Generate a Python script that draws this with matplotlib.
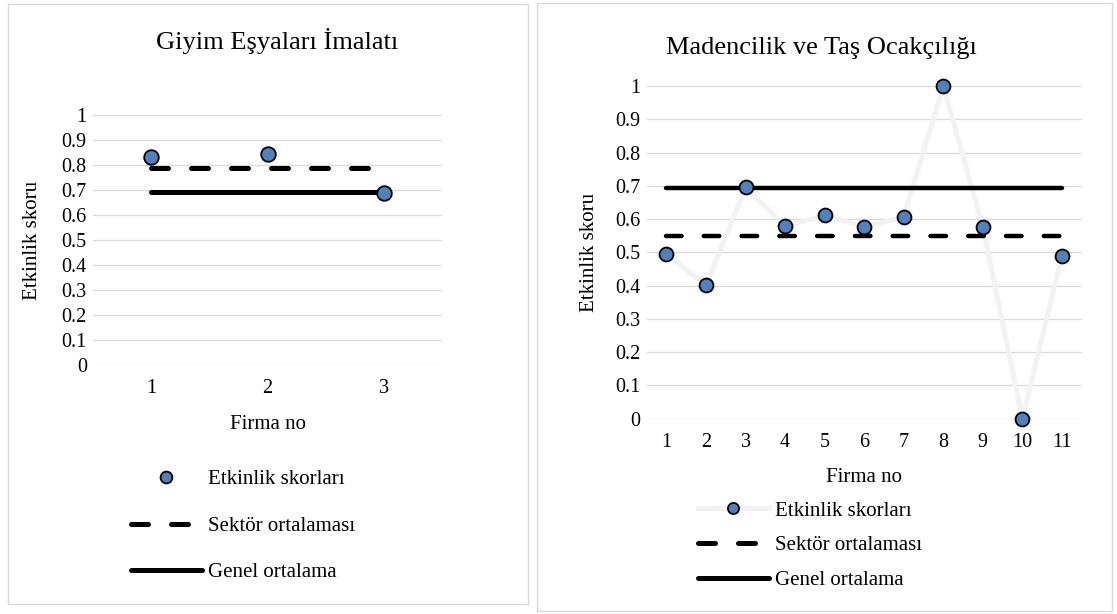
import matplotlib
matplotlib.use("Agg")
import matplotlib.pyplot as plt
from matplotlib.patches import Rectangle
from matplotlib.lines import Line2D

plt.rcParams['font.family'] = ['Liberation Serif', 'DejaVu Serif']

# Giyim Eşyaları İmalatı
firms_a = [1, 2, 3]
scores_a = [0.833, 0.844, 0.687]
sector_a = 0.788

# Madencilik ve Taş Ocakçılığı
firms_b = [1, 2, 3, 4, 5, 6, 7, 8, 9, 10, 11]
scores_b = [0.495, 0.401, 0.695, 0.579, 0.611, 0.576, 0.607, 1.0, 0.576, 0.0, 0.489]
sector_b = 0.548

general_avg = 0.694

yticks = [0, 0.1, 0.2, 0.3, 0.4, 0.5, 0.6, 0.7, 0.8, 0.9, 1]
ytick_labels = ['0', '0.1', '0.2', '0.3', '0.4', '0.5', '0.6', '0.7', '0.8', '0.9', '1']
labels = ['Etkinlik skorları', 'Sektör ortalaması', 'Genel ortalama']

W, H = 1117, 614
BLUE = '#4F81BD'
GRID = '#d9d9d9'
LINE_GRAY = '#f2f2f2'


def px(x0, y0, x1, y1):
    # pixel box (top-left origin) -> figure fraction rect
    return [x0 / W, 1 - y1 / H, (x1 - x0) / W, (y1 - y0) / H]


fig = plt.figure(figsize=(W / 100, H / 100), dpi=100)

# panel frames
for x0, y0, x1, y1 in [(8, 4, 528, 604), (537, 3, 1112, 611)]:
    fig.add_artist(Rectangle((x0 / W, 1 - y1 / H), (x1 - x0) / W, (y1 - y0) / H,
                             transform=fig.transFigure, fill=False, ec=GRID, lw=1))

ax1 = fig.add_axes(px(93, 115, 442, 365))
ax2 = fig.add_axes(px(646.7, 86, 1081.7, 418.7))


def style(ax, firms):
    ax.set_ylim(0, 1)
    ax.set_xlim(0.5, len(firms) + 0.5)
    ax.set_yticks(yticks, ytick_labels)
    ax.set_xticks(firms, [str(f) for f in firms])
    ax.grid(axis='y', color=GRID, lw=0.9)
    ax.set_axisbelow(True)
    for s in ax.spines.values():
        s.set_visible(False)
    ax.tick_params(axis='both', length=0, labelsize=14.5)
    ax.tick_params(axis='y', pad=4.5)
    ax.tick_params(axis='x', pad=10)
    ax.set_ylabel('Etkinlik skoru', fontsize=15)
    ax.set_xlabel('Firma no', fontsize=15)


dash_a = dict(ls=(0, (3.4, 4.6)), dash_capstyle='round')
dash_b = dict(ls=(0, (3.5, 5.0)), dash_capstyle='round')

# left panel
style(ax1, firms_a)
ax1.plot(firms_a, [sector_a] * len(firms_a), color='black', lw=3.6, **dash_a, zorder=3)
ax1.plot(firms_a, [general_avg] * len(firms_a), color='black', lw=3.6,
         solid_capstyle='round', zorder=3)
ax1.plot(firms_a, scores_a, ls='none', marker='o', ms=10.5, mfc=BLUE, mec='black',
         mew=1.3, zorder=4, clip_on=False)
ax1.yaxis.set_label_coords(-0.146, 0.5)
ax1.xaxis.set_label_coords(0.5, -0.2)
fig.text(277 / W, 1 - 41 / H, 'Giyim Eşyaları İmalatı', ha='center', va='center', fontsize=19)

# right panel
style(ax2, firms_b)
ax2.plot(firms_b, scores_b, color=LINE_GRAY, lw=3.6, zorder=2, clip_on=False)
ax2.plot(firms_b, [sector_b] * len(firms_b), color='black', lw=3.2, **dash_b, zorder=3)
ax2.plot(firms_b, [general_avg] * len(firms_b), color='black', lw=3.2,
         solid_capstyle='round', zorder=3)
ax2.plot(firms_b, scores_b, ls='none', marker='o', ms=10, mfc=BLUE, mec='black',
         mew=1.3, zorder=4, clip_on=False)
ax2.yaxis.set_label_coords(-0.110, 0.5)
ax2.xaxis.set_label_coords(0.5, -0.148)
fig.text(821 / W, 1 - 48 / H, 'Madencilik ve Taş Ocakçılığı', ha='center', va='center', fontsize=19)

# legends
h_dash = Line2D([], [], color='black', lw=3.6, **dash_a)
h_solid = Line2D([], [], color='black', lw=3.6, solid_capstyle='round')
h_pts_a = Line2D([], [], ls='none', marker='o', ms=8.5, mfc=BLUE, mec='black', mew=1.3)
h_pts_b = Line2D([], [], color=LINE_GRAY, lw=3.6, marker='o', ms=8, mfc=BLUE,
                 mec='black', mew=1.3)

fig.legend([h_pts_a, h_dash, h_solid], labels, loc='center',
           bbox_to_anchor=(243 / W, 1 - 526 / H), frameon=False, fontsize=15,
           handlelength=3.4, handletextpad=0.3, labelspacing=1.3)
fig.legend([h_pts_b, h_dash, h_solid], labels, loc='center',
           bbox_to_anchor=(810 / W, 1 - 545.5 / H), frameon=False, fontsize=15,
           handlelength=3.4, handletextpad=0.3, labelspacing=0.72)

fig.savefig('out.png', dpi=100)
